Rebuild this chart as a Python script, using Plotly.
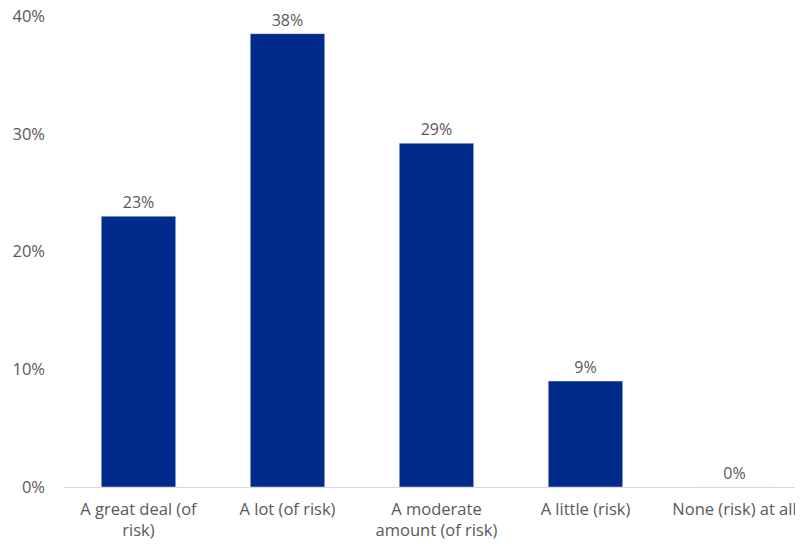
import plotly.graph_objects as go

categories = ["A great deal (of<br>risk)", "A lot (of risk)", "A moderate<br>amount (of risk)", "A little (risk)", "None (risk) at all"]
values = [0.23, 0.385, 0.292, 0.09, 0.0]
labels = ["23%", "38%", "29%", "9%", "0%"]
yticks = [0, 0.1, 0.2, 0.3, 0.4]
yticklabels = ["0%", "10%", "20%", "30%", "40%"]

fig = go.Figure(go.Bar(
    x=categories, y=values, text=labels, textposition="outside",
    marker_color="#002A8C", width=0.5,
    textfont=dict(size=16, color="#595959"), cliponaxis=False,
))
fig.update_layout(
    width=795, height=536, margin=dict(l=56, r=0, t=8, b=57, autoexpand=False),
    paper_bgcolor="white", plot_bgcolor="white",
    font=dict(family="Open Sans", size=16, color="#595959"),
    showlegend=False,
)
fig.update_xaxes(range=[-0.5, 4.46], showline=True, linecolor="#d9d9d9", linewidth=1,
                 ticks="", showgrid=False, ticklabelstandoff=7, ticklabeloverflow="allow",
                 automargin=False, tickfont=dict(size=16.5, color="#595959"))
fig.update_yaxes(range=[0, 0.4], tickvals=yticks, ticktext=yticklabels, showgrid=False,
                 zeroline=False, showline=False, ticklabelstandoff=18, ticklabeloverflow="allow",
                 automargin=False, tickfont=dict(size=16.5, color="#595959"))
fig.write_html("out.html")
